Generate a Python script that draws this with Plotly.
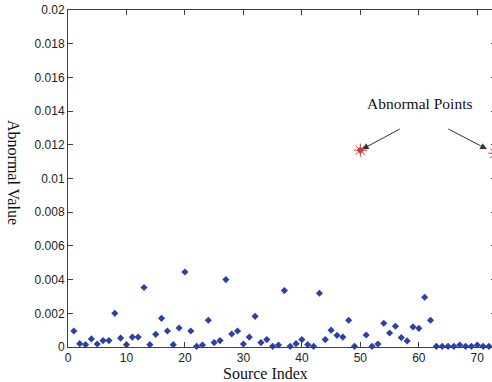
import plotly.graph_objects as go

# Source indices 1..73 and their abnormal values
source_index = list(range(1, 74))
abnormal_value = [
    0.00095, 0.00020, 0.00014, 0.00048, 0.00018, 0.00038, 0.00038, 0.00200, 0.00053, 0.00014,
    0.00059, 0.00059, 0.00353, 0.00014, 0.00075, 0.00170, 0.00095, 0.00014, 0.00113, 0.00445,
    0.00095, 0.00004, 0.00012, 0.00159, 0.00026, 0.00038, 0.00400, 0.00077, 0.00095, 0.00018,
    0.00059, 0.00182, 0.00026, 0.00044, 0.00004, 0.00012, 0.00335, 0.00004, 0.00020, 0.00044,
    0.00014, 0.00004, 0.00319, 0.00044, 0.00100, 0.00069, 0.00059, 0.00159, 0.00004, 0.01168,
    0.00071, 0.00004, 0.00018, 0.00141, 0.00083, 0.00123, 0.00056, 0.00036, 0.00119, 0.00111,
    0.00295, 0.00159, 0.00004, 0.00004, 0.00004, 0.00004, 0.00012, 0.00004, 0.00004, 0.00012,
    0.00004, 0.00004, 0.01150,
]
abnormal_idx = [50, 73]
abnormal_vals = [abnormal_value[i - 1] for i in abnormal_idx]

x_ticks = [0, 10, 20, 30, 40, 50, 60, 70]
y_ticks = [0, 0.002, 0.004, 0.006, 0.008, 0.01, 0.012, 0.014, 0.016, 0.018, 0.02]
y_tick_text = ["0", "0.002", "0.004", "0.006", "0.008", "0.01", "0.012", "0.014", "0.016", "0.018", "0.02"]

W, L, R = 500, 68, 4
PW = W - L - R

fig = go.Figure()
fig.add_trace(go.Scatter(
    x=source_index, y=abnormal_value, mode="markers",
    marker=dict(symbol="diamond", size=5.5, color="#2E40A8", line=dict(width=0)),
    cliponaxis=False, showlegend=False, hoverinfo="skip",
))
fig.add_trace(go.Scatter(
    x=abnormal_idx, y=abnormal_vals, mode="markers",
    marker=dict(symbol="asterisk-open", size=11, color="#F03A3A",
                line=dict(width=1, color="#F03A3A")),
    cliponaxis=False, showlegend=False, hoverinfo="skip",
))

axis_common = dict(
    showline=True, linecolor="#404040", linewidth=1, mirror="ticks",
    ticks="inside", ticklen=5, tickcolor="#404040", tickwidth=1,
    showgrid=False, zeroline=False,
    tickfont=dict(family="Liberation Sans, Arial", size=12, color="#222222"),
)

fig.update_xaxes(range=[0, 73.2], tickvals=x_ticks, **axis_common)
fig.update_yaxes(range=[0, 0.02], tickvals=y_ticks, ticktext=y_tick_text, **axis_common)

serif = dict(family="Liberation Serif, Times New Roman", size=16, color="#111111")
fig.add_annotation(text="Source Index", xref="paper", yref="paper",
                   x=(265 - L) / PW, y=-(373 - 347) / 337.0,
                   showarrow=False, font=serif, xanchor="center", yanchor="middle")
fig.add_annotation(text="Abnormal Value", xref="paper", yref="paper",
                   x=-(L - 13) / PW, y=(347 - 172) / 337.0, textangle=90,
                   showarrow=False, font=serif, xanchor="center", yanchor="middle")
fig.add_annotation(text="Abnormal Points", xref="paper", yref="paper",
                   x=(419.5 - L) / PW, y=(347 - 103) / 337.0,
                   showarrow=False, font=dict(family="Liberation Serif, Times New Roman", size=15.5, color="#111111"),
                   xanchor="center", yanchor="middle")
# Arrows towards the abnormal points
fig.add_annotation(x=abnormal_idx[0], y=abnormal_vals[0], xref="x", yref="y",
                   text="", showarrow=True, ax=41, ay=-22, standoff=2,
                   arrowhead=2, arrowsize=1.3, arrowwidth=1, arrowcolor="#333333")
fig.add_annotation(x=abnormal_idx[1], y=abnormal_vals[1], xref="x", yref="y",
                   text="", showarrow=True, ax=-48, ay=-25, standoff=9,
                   arrowhead=2, arrowsize=1.3, arrowwidth=1, arrowcolor="#333333")

fig.update_layout(
    width=W, height=382,
    margin=dict(l=L, r=R, t=10, b=35),
    paper_bgcolor="white", plot_bgcolor="white",
    hovermode=False,
)

fig.write_html("out.html", config={"displayModeBar": False},
               post_script="document.body.style.margin='0';document.body.style.overflow='hidden';")
